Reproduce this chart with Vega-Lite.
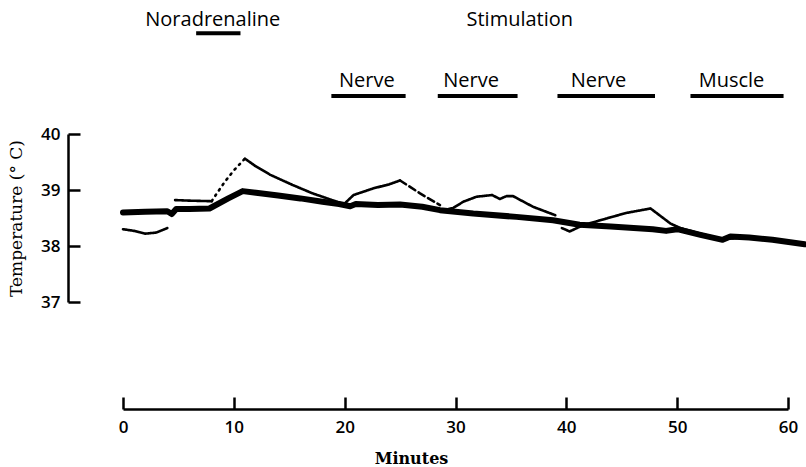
{
  "$schema": "https://vega.github.io/schema/vega-lite/v6.json",
  "autosize": {"type": "none"},
  "padding": {"left": 123, "top": 134, "right": 18, "bottom": 165},
  "width": 665,
  "height": 168,
  "background": "white",
  "config": {"view": {"stroke": null}},
  "datasets": {
    "traces": [
      {"trace": "thick", "segment": "T", "t": 0, "v": 38.60},
      {"trace": "thick", "segment": "T", "t": 2, "v": 38.61},
      {"trace": "thick", "segment": "T", "t": 4, "v": 38.62},
      {"trace": "thick", "segment": "T", "t": 4.4, "v": 38.57},
      {"trace": "thick", "segment": "T", "t": 4.8, "v": 38.66},
      {"trace": "thick", "segment": "T", "t": 6, "v": 38.66},
      {"trace": "thick", "segment": "T", "t": 7.8, "v": 38.67},
      {"trace": "thick", "segment": "T", "t": 9.5, "v": 38.85},
      {"trace": "thick", "segment": "T", "t": 10.8, "v": 38.98},
      {"trace": "thick", "segment": "T", "t": 12, "v": 38.95},
      {"trace": "thick", "segment": "T", "t": 14, "v": 38.90},
      {"trace": "thick", "segment": "T", "t": 16, "v": 38.85},
      {"trace": "thick", "segment": "T", "t": 18, "v": 38.79},
      {"trace": "thick", "segment": "T", "t": 19.5, "v": 38.75},
      {"trace": "thick", "segment": "T", "t": 20.5, "v": 38.71},
      {"trace": "thick", "segment": "T", "t": 21, "v": 38.75},
      {"trace": "thick", "segment": "T", "t": 23, "v": 38.73},
      {"trace": "thick", "segment": "T", "t": 25, "v": 38.74},
      {"trace": "thick", "segment": "T", "t": 27, "v": 38.70},
      {"trace": "thick", "segment": "T", "t": 28.6, "v": 38.64},
      {"trace": "thick", "segment": "T", "t": 31.6, "v": 38.58},
      {"trace": "thick", "segment": "T", "t": 35.5, "v": 38.52},
      {"trace": "thick", "segment": "T", "t": 38.8, "v": 38.46},
      {"trace": "thick", "segment": "T", "t": 41.2, "v": 38.38},
      {"trace": "thick", "segment": "T", "t": 44, "v": 38.35},
      {"trace": "thick", "segment": "T", "t": 47.8, "v": 38.30},
      {"trace": "thick", "segment": "T", "t": 49, "v": 38.27},
      {"trace": "thick", "segment": "T", "t": 50, "v": 38.30},
      {"trace": "thick", "segment": "T", "t": 52.1, "v": 38.20},
      {"trace": "thick", "segment": "T", "t": 54.1, "v": 38.11},
      {"trace": "thick", "segment": "T", "t": 54.8, "v": 38.17},
      {"trace": "thick", "segment": "T", "t": 56.5, "v": 38.15},
      {"trace": "thick", "segment": "T", "t": 58.6, "v": 38.11},
      {"trace": "thick", "segment": "T", "t": 61.5, "v": 38.03},

      {"trace": "thin", "segment": "A", "t": 0, "v": 38.30},
      {"trace": "thin", "segment": "A", "t": 1, "v": 38.27},
      {"trace": "thin", "segment": "A", "t": 2, "v": 38.22},
      {"trace": "thin", "segment": "A", "t": 3, "v": 38.24},
      {"trace": "thin", "segment": "A", "t": 4, "v": 38.32},

      {"trace": "thin", "segment": "B1", "t": 4.7, "v": 38.82},
      {"trace": "thin", "segment": "B1", "t": 6, "v": 38.81},
      {"trace": "thin", "segment": "B1", "t": 8.0, "v": 38.80},

      {"trace": "thin", "segment": "B2", "t": 8.0, "v": 38.80},
      {"trace": "thin", "segment": "B2", "t": 8.5, "v": 38.95},
      {"trace": "thin", "segment": "B2", "t": 9.2, "v": 39.15},
      {"trace": "thin", "segment": "B2", "t": 10.0, "v": 39.35},
      {"trace": "thin", "segment": "B2", "t": 11.0, "v": 39.56},

      {"trace": "thin", "segment": "B3", "t": 11.0, "v": 39.56},
      {"trace": "thin", "segment": "B3", "t": 12.0, "v": 39.42},
      {"trace": "thin", "segment": "B3", "t": 13.3, "v": 39.27},
      {"trace": "thin", "segment": "B3", "t": 15.3, "v": 39.09},
      {"trace": "thin", "segment": "B3", "t": 17.1, "v": 38.94},
      {"trace": "thin", "segment": "B3", "t": 19.3, "v": 38.79},
      {"trace": "thin", "segment": "B3", "t": 19.9, "v": 38.74},
      {"trace": "thin", "segment": "B3", "t": 20.8, "v": 38.91},
      {"trace": "thin", "segment": "B3", "t": 22.6, "v": 39.03},
      {"trace": "thin", "segment": "B3", "t": 24.0, "v": 39.10},
      {"trace": "thin", "segment": "B3", "t": 25.0, "v": 39.17},

      {"trace": "thin", "segment": "B4", "t": 25.0, "v": 39.17},
      {"trace": "thin", "segment": "B4", "t": 26.8, "v": 38.94},
      {"trace": "thin", "segment": "B4", "t": 28.6, "v": 38.73},

      {"trace": "thin", "segment": "C", "t": 29.0, "v": 38.64},
      {"trace": "thin", "segment": "C", "t": 29.8, "v": 38.68},
      {"trace": "thin", "segment": "C", "t": 30.7, "v": 38.79},
      {"trace": "thin", "segment": "C", "t": 31.9, "v": 38.88},
      {"trace": "thin", "segment": "C", "t": 33.3, "v": 38.91},
      {"trace": "thin", "segment": "C", "t": 34.0, "v": 38.84},
      {"trace": "thin", "segment": "C", "t": 34.6, "v": 38.89},
      {"trace": "thin", "segment": "C", "t": 35.2, "v": 38.89},
      {"trace": "thin", "segment": "C", "t": 37.0, "v": 38.70},
      {"trace": "thin", "segment": "C", "t": 39.0, "v": 38.55},

      {"trace": "thin", "segment": "D", "t": 39.6, "v": 38.32},
      {"trace": "thin", "segment": "D", "t": 40.3, "v": 38.26},
      {"trace": "thin", "segment": "D", "t": 41.5, "v": 38.37},
      {"trace": "thin", "segment": "D", "t": 43.6, "v": 38.49},
      {"trace": "thin", "segment": "D", "t": 45.4, "v": 38.59},
      {"trace": "thin", "segment": "D", "t": 47.6, "v": 38.67},
      {"trace": "thin", "segment": "D", "t": 49.4, "v": 38.40},
      {"trace": "thin", "segment": "D", "t": 50.3, "v": 38.32},
      {"trace": "thin", "segment": "D", "t": 52.1, "v": 38.22},
      {"trace": "thin", "segment": "D", "t": 54.1, "v": 38.12},
      {"trace": "thin", "segment": "D", "t": 56.5, "v": 38.16},
      {"trace": "thin", "segment": "D", "t": 58.6, "v": 38.12},
      {"trace": "thin", "segment": "D", "t": 61.5, "v": 38.05}
    ],
    "bars": [
      {"label": "Noradrenaline", "t": 6.6, "t2": 10.6, "v": 41.8},
      {"label": "Nerve 1", "t": 18.8, "t2": 25.5, "v": 40.68},
      {"label": "Nerve 2", "t": 28.4, "t2": 35.6, "v": 40.68},
      {"label": "Nerve 3", "t": 39.2, "t2": 48.0, "v": 40.68},
      {"label": "Muscle", "t": 51.2, "t2": 59.6, "v": 40.68}
    ],
    "labels": [
      {"text": "Noradrenaline", "t": 8.1, "v": 42.04},
      {"text": "Stimulation", "t": 35.8, "v": 42.04},
      {"text": "Nerve", "t": 22.0, "v": 40.95},
      {"text": "Nerve", "t": 31.4, "v": 40.95},
      {"text": "Nerve", "t": 42.9, "v": 40.95},
      {"text": "Muscle", "t": 54.9, "v": 40.95}
    ]
  },
  "encoding": {
    "x": {
      "field": "t", "type": "quantitative",
      "scale": {"domain": [0, 60], "nice": false, "zero": false},
      "axis": {
        "orient": "bottom", "offset": 107, "values": [0, 10, 20, 30, 40, 50, 60],
        "grid": false, "tickSize": -12, "tickWidth": 2.5, "domainWidth": 2.5,
        "domainColor": "black", "tickColor": "black",
        "labelFont": "Open Sans", "labelFontSize": 17, "labelFontWeight": 600,
        "labelColor": "black", "labelPadding": 22, "labelFlush": false,
        "title": "Minutes", "titleFont": "DejaVu Serif", "titleFontSize": 16,
        "titleFontWeight": "bold", "titleColor": "black", "titlePadding": 15,
        "titleX": 288, "titleAnchor": "middle"
      }
    },
    "y": {
      "field": "v", "type": "quantitative",
      "scale": {"domain": [37, 40], "nice": false, "zero": false},
      "axis": {
        "orient": "left", "offset": 55, "values": [37, 38, 39, 40],
        "grid": false, "tickSize": -12, "tickWidth": 2.5, "domainWidth": 2.5,
        "domainColor": "black", "tickColor": "black",
        "labelFont": "Open Sans", "labelFontSize": 17, "labelFontWeight": 600,
        "labelColor": "black", "labelPadding": 20, "labelFlush": false,
        "title": "Temperature (° C)", "titleFont": "DejaVu Serif", "titleFontSize": 17,
        "titleFontWeight": "normal", "titleColor": "black", "titlePadding": 15
      }
    }
  },
  "layer": [
    {
      "data": {"name": "traces"},
      "transform": [{"filter": "datum.trace === 'thick'"}],
      "mark": {"type": "line", "color": "black", "strokeWidth": 6, "strokeCap": "round", "strokeJoin": "round"}
    },
    {
      "data": {"name": "traces"},
      "transform": [{"filter": "datum.trace === 'thin'"}],
      "mark": {"type": "line", "color": "black", "strokeWidth": 2.6, "strokeCap": "round", "strokeJoin": "round"},
      "encoding": {
        "strokeDash": {
          "field": "segment", "type": "nominal", "legend": null,
          "scale": {
            "domain": ["A", "B1", "B2", "B3", "B4", "C", "D"],
            "range": [[1, 0], [1, 0], [1.5, 5], [1, 0], [7, 4], [1, 0], [1, 0]]
          }
        }
      }
    },
    {
      "data": {"name": "bars"},
      "mark": {"type": "rule", "color": "black", "strokeWidth": 4},
      "encoding": {"x2": {"field": "t2"}}
    },
    {
      "data": {"name": "labels"},
      "mark": {"type": "text", "font": "Open Sans", "fontSize": 20, "color": "black", "align": "center", "baseline": "middle"},
      "encoding": {"text": {"field": "text"}}
    }
  ]
}
